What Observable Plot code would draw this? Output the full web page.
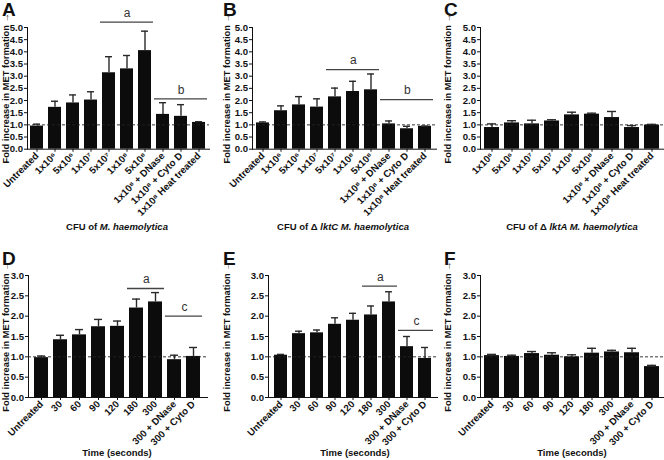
<!DOCTYPE html>
<html><head><meta charset="utf-8">
<script src="https://cdn.jsdelivr.net/npm/d3@7"></script>
<script src="https://cdn.jsdelivr.net/npm/@observablehq/plot@0.6"></script>
<style>
body{margin:0;background:#fff;}
#root{position:relative;width:664px;height:460px;overflow:hidden;font-family:"Liberation Sans",Arial,sans-serif;font-weight:bold;color:#111;}
.panel{position:absolute;}
.letter{position:absolute;font-size:19px;font-weight:bold;line-height:1;}
.cap{position:absolute;font-size:9.5px;font-weight:bold;white-space:nowrap;transform:translate(-50%,-50%);}
</style></head><body><div id="root"></div>
<script>
// ---------- data ----------
const cfuCats = ["Untreated","1x10⁶","5x10⁶","1x10⁷","5x10⁷","1x10⁸","5x10⁸","1x10⁸ + DNase","1x10⁸ + Cyto D","1x10⁸ Heat treated"];
const cfuCatsC = cfuCats.slice(1);
const timeCats = ["Untreated","30","60","90","120","180","300","300 + DNase","300 + Cyto D"];
const topTicks = [0,0.5,1,1.5,2,2.5,3,3.5,4,4.5,5];
const bottomTicks = [0,0.5,1,1.5,2,2.5,3];

const meanA = [0.95,1.72,1.90,2.02,3.14,3.30,4.05,1.43,1.35,1.10];
const errA  = [0.08,0.25,0.33,0.34,0.66,0.55,0.80,0.48,0.48,0.03];
const meanB = [1.08,1.58,1.82,1.73,2.15,2.37,2.44,1.04,0.84,0.94];
const errB  = [0.04,0.20,0.34,0.34,0.36,0.42,0.65,0.12,0.10,0.01];
const meanC = [0.89,1.08,1.04,1.16,1.41,1.44,1.30,0.89,0.99];
const errC  = [0.15,0.09,0.15,0.05,0.11,0.04,0.25,0.08,0.03];
const meanD = [0.98,1.42,1.54,1.74,1.75,2.20,2.35,0.93,1.01];
const errD  = [0.04,0.11,0.13,0.18,0.13,0.22,0.23,0.11,0.22];
const meanE = [1.04,1.57,1.59,1.80,1.90,2.03,2.35,1.25,0.96];
const errE  = [0.02,0.06,0.07,0.16,0.17,0.22,0.25,0.25,0.27];
const meanF = [1.03,1.01,1.08,1.04,1.00,1.09,1.12,1.10,0.76];
const errF  = [0.03,0.03,0.05,0.06,0.05,0.12,0.04,0.11,0.03];

const bracketsA = [{label:"a",from:"5x10⁷",to:"5x10⁸",level:5.22},{label:"b",from:"1x10⁸ + DNase",to:"1x10⁸ Heat treated",level:2.07}];
const bracketsB = [{label:"a",from:"5x10⁷",to:"5x10⁸",level:3.27},{label:"b",from:"1x10⁸ + DNase",to:"1x10⁸ Heat treated",level:2.04}];
const bracketsD = [{label:"a",from:"180",to:"300",level:2.68},{label:"c",from:"300 + DNase",to:"300 + Cyto D",level:2.0}];
const bracketsE = [{label:"a",from:"180",to:"300",level:2.74},{label:"c",from:"300 + DNase",to:"300 + Cyto D",level:1.65}];

// ---------- layout ----------
const panels = [
  {letter:"A",cats:cfuCats,mean:meanA,err:errA,br:bracketsA,ymax:5,ticks:topTicks,left:0,top:0,width:221,height:218,ml:27,mr:12,mt:27,plotBottom:148.7},
  {letter:"B",cats:cfuCats,mean:meanB,err:errB,br:bracketsB,ymax:5,ticks:topTicks,left:221,top:0,width:221,height:218,ml:31,mr:6,mt:27,plotBottom:148.7},
  {letter:"C",cats:cfuCatsC,mean:meanC,err:errC,br:[],ymax:5,ticks:topTicks,left:442,top:0,width:222,height:218,ml:38,mr:0.5,mt:27,plotBottom:148.7},
  {letter:"D",cats:timeCats,mean:meanD,err:errD,br:bracketsD,ymax:3,ticks:bottomTicks,left:0,top:245,width:221,height:215,ml:28,mr:14,mt:30,plotBottom:397},
  {letter:"E",cats:timeCats,mean:meanE,err:errE,br:bracketsE,ymax:3,ticks:bottomTicks,left:221,top:245,width:221,height:215,ml:47,mr:5,mt:30,plotBottom:397},
  {letter:"F",cats:timeCats,mean:meanF,err:errF,br:[],ymax:3,ticks:bottomTicks,left:442,top:245,width:222,height:215,ml:38,mr:0.5,mt:30,plotBottom:397}
];

const root = document.getElementById("root");
const PI = 0.26, PO = 0.13;

for (const p of panels) {
  const data = p.cats.map((c,i)=>({cat:c, mean:p.mean[i], top:p.mean[i]+p.err[i]}));
  const sx = Plot.scale({x:{type:"band",domain:p.cats,range:[p.ml,p.width-p.mr],paddingInner:PI,paddingOuter:PO}});
  const marks = [
    Plot.barY(data,{x:"cat",y:"mean",fill:"#0c0c0c"}),
    Plot.ruleX(data,{x:"cat",y1:"mean",y2:"top",stroke:"#2a2a2a",strokeWidth:1.4}),
    Plot.tickY(data,{x:"cat",y:"top",stroke:"#2a2a2a",strokeWidth:1.4,insetLeft:3,insetRight:3}),
    Plot.ruleY([1],{stroke:"#222",strokeDasharray:"3,2",strokeWidth:0.9})
  ];
  for (const b of p.br) {
    marks.push(Plot.ruleY([b],{x1:d=>d.from,x2:d=>d.to,y:"level",stroke:"#444",strokeWidth:1.3,insetLeft:-2,insetRight:-2}));
    marks.push(Plot.text([b],{x:d=>d.from,y:"level",text:"label",dx:(sx.apply(b.to)-sx.apply(b.from))/2,dy:-9,fontSize:12,fontWeight:"normal",fill:"#333"}));
  }
  const chart = Plot.plot({
    width:p.width,height:p.height,
    marginLeft:p.ml,marginRight:p.mr,marginTop:p.mt,marginBottom:p.height-(p.plotBottom-p.top),
    x:{domain:p.cats,paddingInner:PI,paddingOuter:PO,line:true,tickSize:3,tickRotate:-45,tickPadding:2,label:null},
    y:{domain:[0,p.ymax],ticks:p.ticks,tickFormat:d3.format(".1f"),line:true,tickSize:3,tickPadding:1.5,
       label:"Fold increase in MET formation",labelAnchor:"center",labelOffset:p.ml-1.5},
    style:{fontFamily:'"Liberation Sans",Arial,sans-serif',fontWeight:"bold",fontSize:"9.4px",color:"#111",background:"transparent",overflow:"visible"},
    marks
  });
  chart.querySelectorAll('[aria-label="x-axis tick label"]').forEach(g=>{g.style.fontSize="9.7px";});
  chart.querySelectorAll('[aria-label="y-axis tick label"]').forEach(g=>{g.style.fontSize="9.6px";});
  chart.querySelectorAll('[aria-label="y-axis label"]').forEach(g=>{g.style.fontSize="9.3px";});
  chart.classList.add("panel");
  chart.style.left = p.left+"px";
  chart.style.top = p.top+"px";
  root.appendChild(chart);
  const L = document.createElement("div");
  L.className = "letter";
  L.textContent = p.letter;
  L.style.left = (p.left+2)+"px";
  L.style.top = (p.top ? p.top+3.5 : 0)+"px";
  root.appendChild(L);
}

const caps = [
  {html:'CFU of <i>M. haemolytica</i>',x:117,y:226},
  {html:'CFU of Δ <i>lktC M. haemolytica</i>',x:343,y:226},
  {html:'CFU of Δ <i>lktA M. haemolytica</i>',x:572,y:226},
  {html:'Time (seconds)',x:117,y:452},
  {html:'Time (seconds)',x:355,y:452},
  {html:'Time (seconds)',x:572,y:452}
];
for (const c of caps) {
  const d = document.createElement("div");
  d.className = "cap";
  d.innerHTML = c.html;
  d.style.left = c.x+"px";
  d.style.top = c.y+"px";
  root.appendChild(d);
}
</script></body></html>
